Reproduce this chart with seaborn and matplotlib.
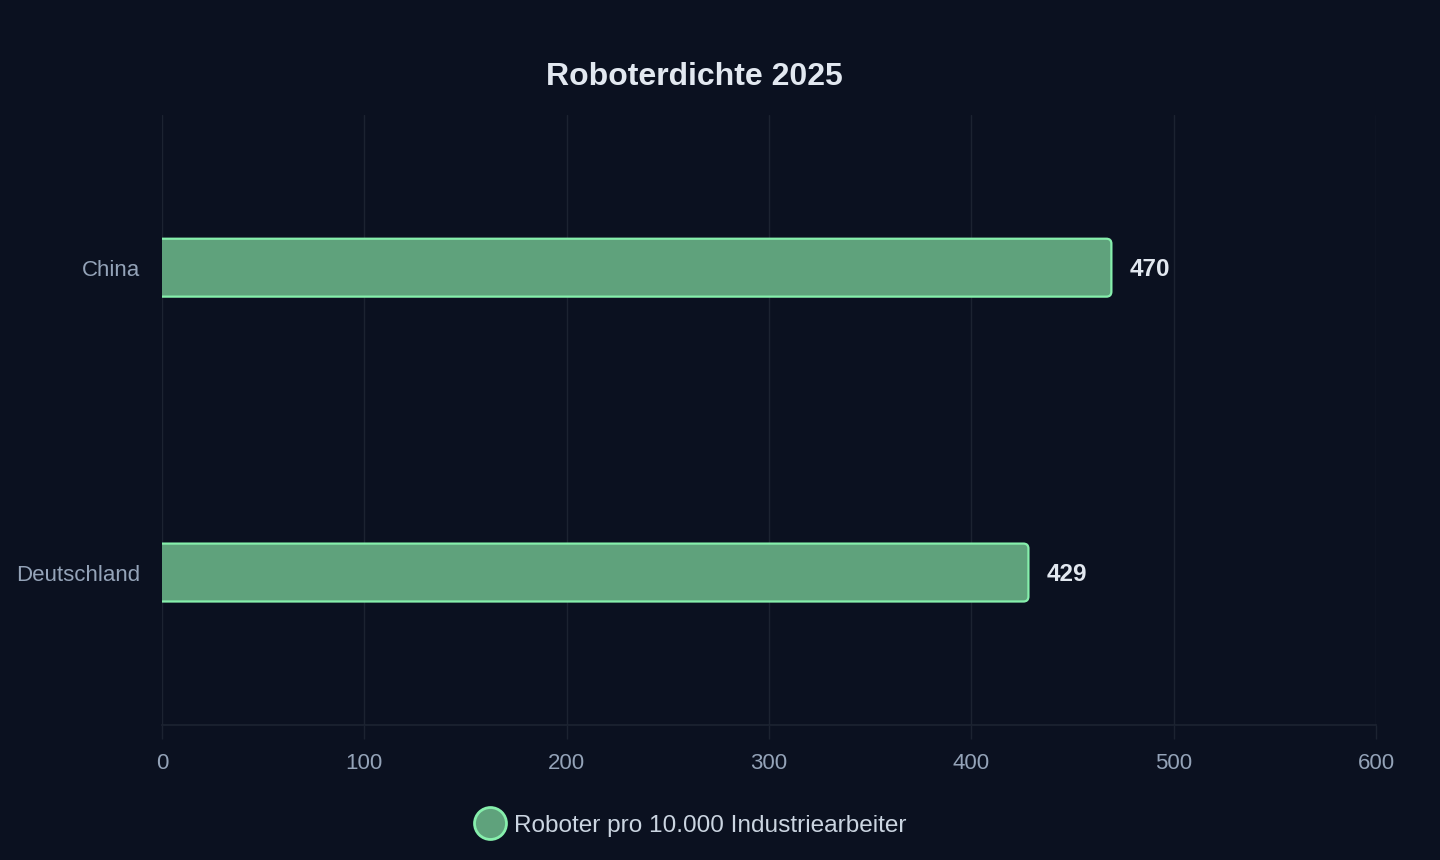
import matplotlib
matplotlib.use("Agg")
import matplotlib.pyplot as plt
from matplotlib.patches import FancyBboxPatch
from matplotlib.lines import Line2D
import seaborn as sns
import pandas as pd

# Daten
laender = ["China", "Deutschland"]
roboter_dichte = [470, 429]
serien_name = "Roboter pro 10.000 Industriearbeiter"
titel = "Roboterdichte 2025"

BG = "#0b1120"
FILL = "#5fa27c"
EDGE = "#86efac"
GRID = "#1c2331"
TICK = "#94a3b8"
TEXT = "#e2e8f0"

sns.set_theme(style="dark")
plt.rcParams["font.family"] = ["Liberation Sans", "DejaVu Sans"]

df = pd.DataFrame({"land": laender, "wert": roboter_dichte})

fig = plt.figure(figsize=(14.4, 8.6), dpi=100, facecolor=BG)
ax = fig.add_axes([0.1125, 0.157, 0.9556 - 0.1125, 0.866 - 0.157])
ax.set_facecolor(BG)

sns.barplot(data=df, x="wert", y="land", orient="h", color=FILL, width=0.19, ax=ax)

ax.set_xlim(0, 600)
ax.set_ylim(1.5, -0.5)

# px pro Einheit fuer runde Ecken
px_x = (1376 - 162) / 600
px_y = 610 / 2.0
r = 5
for p in list(ax.patches):
    x0, y0 = p.get_x(), p.get_y()
    w, h = p.get_width(), p.get_height()
    p.set_visible(False)
    box = FancyBboxPatch((x0 - 20, y0), w + 20 - 0.8, h,
                         boxstyle=f"round,pad=0,rounding_size={r / px_x}",
                         mutation_aspect=(px_x / px_y),
                         facecolor=FILL, edgecolor=EDGE, linewidth=1.6,
                         clip_on=True, zorder=3)
    ax.add_patch(box)
    box.set_clip_path(ax.patch)
    ax.text(x0 + w + 8.3, y0 + h / 2 - 0.003, f"{w:.0f}", ha="left", va="center_baseline",
            color=TEXT, fontsize=17.5, fontweight="bold")

ax.set_xticks(range(0, 601, 100))
ax.grid(axis="x", color=GRID, linewidth=1)
ax.grid(axis="y", visible=False)
ax.tick_params(axis="x", colors=GRID, labelcolor=TICK, labelsize=16,
               length=10, width=1, pad=10, bottom=True)
ax.tick_params(axis="y", labelcolor=TICK, labelsize=16, length=0, pad=16)
for s in ["top", "right", "left"]:
    ax.spines[s].set_visible(False)
ax.spines["bottom"].set_color(GRID)
ax.set_xlabel("")
ax.set_ylabel("")

fig.text(0.4825, 0.911, titel, ha="center", va="center", color=TEXT,
         fontsize=23, fontweight="bold")

handle = Line2D([], [], marker="o", linestyle="none", markersize=23,
                markerfacecolor=FILL, markeredgecolor=EDGE, markeredgewidth=2)
leg = fig.legend([handle], [serien_name], loc="center", bbox_to_anchor=(0.4765, 0.040),
                 frameon=False, fontsize=17.6, handletextpad=0.0, labelcolor="#cbd5e1")

fig.savefig("out.png", dpi=100, facecolor=BG)
